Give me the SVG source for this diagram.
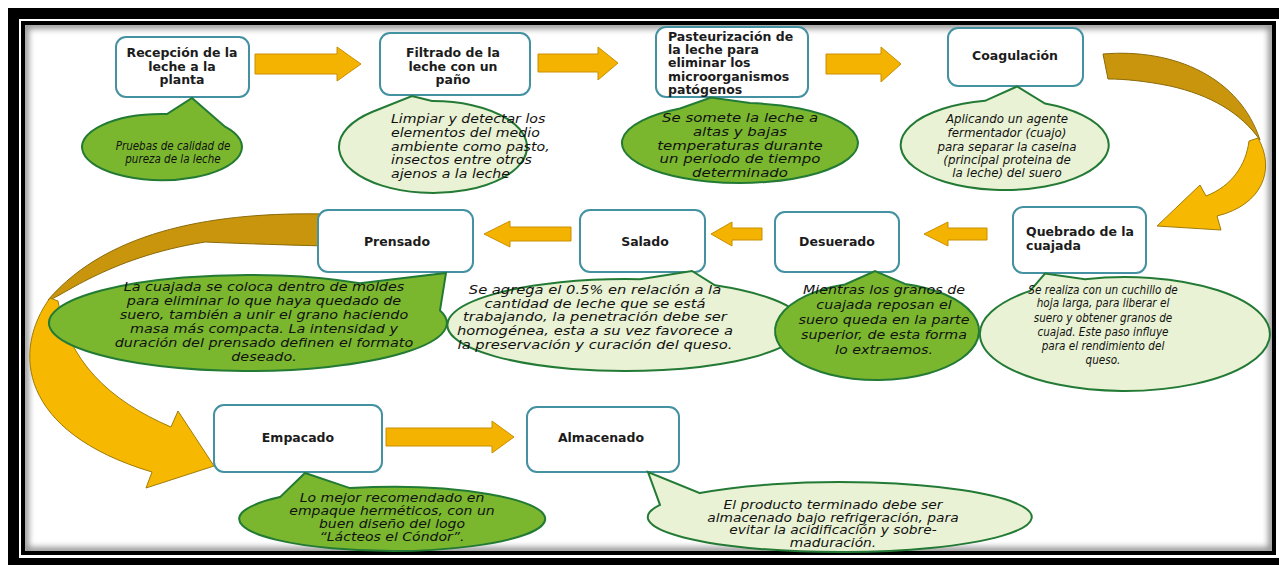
<svg xmlns="http://www.w3.org/2000/svg" width="1279" height="565" viewBox="0 0 1279 565">
<defs>
<style>
.box{fill:#ffffff;stroke:#4391a1;stroke-width:2}
.bt{font-family:"DejaVu Sans","Liberation Sans",sans-serif;font-weight:bold;font-size:12.5px;fill:#1c1c1c}
.it{font-family:"DejaVu Sans","Liberation Sans",sans-serif;font-style:italic;font-size:11.5px;fill:#111111}
.mid{text-anchor:middle}
.dk{fill:#7ab72f;stroke:#237a35;stroke-width:2}
.lt{fill:#e9f2d4;stroke:#237a35;stroke-width:2}
.ar{fill:#f4b300;stroke:#c98f00;stroke-width:1}
.cd{fill:#c9950c;stroke:#8a6a08;stroke-width:1}
.cb{fill:#f6b800;stroke:#a07c08;stroke-width:1}
</style>
<clipPath id="content"><rect x="25" y="25" width="1247" height="526"/></clipPath>
<filter id="blur" x="-5%" y="-5%" width="110%" height="110%"><feGaussianBlur stdDeviation="3"/></filter>
</defs>

<!-- frame -->
<rect x="0" y="0" width="1279" height="565" fill="#ffffff"/>
<rect x="8" y="8" width="1290" height="570" fill="#000000"/>
<rect x="19" y="19" width="1270" height="539" fill="#ffffff"/>
<rect x="21" y="21" width="1255" height="534" fill="#000000"/>
<rect x="25" y="25" width="1247" height="526" fill="#ffffff"/>
<rect x="25" y="25" width="1247" height="526" fill="none" stroke="#8a8a8a" stroke-width="7" filter="url(#blur)" clip-path="url(#content)"/>

<g id="connectors">
<path class="ar" d="M255,54 L337,54 L337,47 L361,64 L337,81 L337,74 L255,74 Z"/>
<path class="ar" d="M538,54 L598,54 L598,47 L618,63 L598,80 L598,72 L538,72 Z"/>
<path class="ar" d="M826,54 L881,54 L881,47 L901,64 L881,82 L881,74 L826,74 Z"/>
<path class="cd" d="M1103,54 C1175,48 1240,78 1260,140 C1240,112 1210,95 1170,86 C1145,81 1125,79 1108,79 Z"/>
<path class="cb" d="M1258,138 C1276,170 1262,205 1217,216 L1221,230 L1157,226 L1200,185 L1206,196 C1232,186 1246,165 1249,141 Z"/>
<path class="ar" d="M987,228 L948,228 L948,222 L924,234 L948,246 L948,240 L987,240 Z"/>
<path class="ar" d="M762,228 L732,228 L732,222 L711,234 L732,246 L732,240 L762,240 Z"/>
<path class="ar" d="M571,227 L510,227 L510,221 L484,234 L510,247 L510,241 L571,241 Z"/>
<path class="cd" d="M325,214 C220,212 110,228 48,300 C58,300 105,258 205,242 C250,244 290,245 325,246 Z"/>
<path class="cb" d="M50,298 C12,350 18,432 152,472 L146,488 L214,466 L178,411 L171,427 C108,400 68,360 58,301 Z"/>
<path class="ar" d="M386,428 L492,428 L492,421 L514,437 L492,453 L492,446 L386,446 Z"/>
</g>

<g id="recepcion">
<rect class="box" x="116" y="37" width="133" height="60" rx="10"/>
<text class="bt mid"><tspan x="182" y="57">Recepción de la</tspan><tspan x="182" y="71">leche a la</tspan><tspan x="182" y="84">planta</tspan></text>
</g>
<g id="nota-recepcion">
<path class="dk" d="M167,114.1 A80,33 0 1 0 225,126.7 L192,98 Z"/>
<g transform="translate(173,0) scale(0.9,1)"><text class="it mid"><tspan x="0" y="150">Pruebas de calidad de</tspan><tspan x="0" y="163">pureza de la leche</tspan></text></g>
</g>

<g id="filtrado">
<rect class="box" x="380" y="33" width="150" height="62" rx="10"/>
<text class="bt mid"><tspan x="453" y="57">Filtrado de la</tspan><tspan x="453" y="71">leche con un</tspan><tspan x="453" y="84">paño</tspan></text>
</g>
<g id="nota-filtrado">
<path class="lt" d="M372,112 A94,46 0 1 0 432,101 L412,96 Z"/>
<g transform="translate(391,0) scale(1.23,1)"><text class="it"><tspan x="0" y="123">Limpiar y detectar los</tspan><tspan x="0" y="137">elementos del medio</tspan><tspan x="0" y="151">ambiente como pasto,</tspan><tspan x="0" y="164">insectos entre otros</tspan><tspan x="0" y="178">ajenos a la leche</tspan></text></g>
</g>

<g id="pasteurizacion">
<rect class="box" x="656" y="27" width="152" height="70" rx="10"/>
<text class="bt"><tspan x="668" y="41">Pasteurización de</tspan><tspan x="668" y="54">la leche para</tspan><tspan x="668" y="67">eliminar los</tspan><tspan x="668" y="81">microorganismos</tspan><tspan x="668" y="94">patógenos</tspan></text>
</g>
<g id="nota-pasteurizacion">
<path class="dk" d="M680,108.5 A118,40 0 1 0 750,103.1 L711,97.5 Z"/>
<g transform="translate(740,0) scale(1.3,1)"><text class="it mid"><tspan x="0" y="122">Se somete la leche a</tspan><tspan x="0" y="136">altas y bajas</tspan><tspan x="0" y="150">temperaturas durante</tspan><tspan x="0" y="163">un periodo de tiempo</tspan><tspan x="0" y="177">determinado</tspan></text></g>
</g>

<g id="coagulacion">
<rect class="box" x="948" y="28" width="135" height="58" rx="10"/>
<text class="bt mid" x="1015" y="60">Coagulación</text>
</g>
<g id="nota-coagulacion">
<path class="lt" d="M985,100.8 A104,45 0 1 0 1045,103.5 L1017,86.5 Z"/>
<g transform="translate(1007,0) scale(1.03,1)"><text class="it mid"><tspan x="0" y="123">Aplicando un agente</tspan><tspan x="0" y="137">fermentador (cuajo)</tspan><tspan x="0" y="151">para separar la caseina</tspan><tspan x="0" y="164">(principal proteina de</tspan><tspan x="0" y="177">la leche) del suero</tspan></text></g>
</g>

<g id="quebrado">
<rect class="box" x="1013" y="207" width="133" height="66" rx="10"/>
<text class="bt"><tspan x="1026" y="236">Quebrado de la</tspan><tspan x="1026" y="250">cuajada</tspan></text>
</g>
<g id="nota-quebrado">
<path class="lt" d="M1030,290.9 A145,57 0 1 0 1085,279.2 L1045,273.5 Z"/>
<g transform="translate(1103,0) scale(0.91,1)"><text class="it mid" font-size="11"><tspan x="0" y="294">Se realiza con un cuchillo de</tspan><tspan x="0" y="307">hoja larga, para liberar el</tspan><tspan x="0" y="322">suero y obtener granos de</tspan><tspan x="0" y="336">cuajad. Este paso influye</tspan><tspan x="0" y="350">para el rendimiento del</tspan><tspan x="0" y="364">queso.</tspan></text></g>
</g>

<g id="salado">
<rect class="box" x="580" y="210" width="125" height="62" rx="10"/>
<text class="bt mid" x="645" y="246">Salado</text>
</g>
<g id="nota-salado">
<path class="lt" d="M640,279.2 A178,46 0 1 0 715,285.3 L692,271 Z"/>
<g transform="translate(595,0) scale(1.28,1)"><text class="it mid"><tspan x="0" y="294">Se agrega el 0.5% en relación a la</tspan><tspan x="0" y="308">cantidad de leche que se está</tspan><tspan x="0" y="321">trabajando, la penetración debe ser</tspan><tspan x="0" y="335">homogénea, esta a su vez favorece a</tspan><tspan x="0" y="349">la preservación y curación del queso.</tspan></text></g>
</g>

<g id="desuerado">
<rect class="box" x="775" y="212" width="124" height="60" rx="10"/>
<text class="bt mid" x="837" y="246">Desuerado</text>
</g>
<g id="nota-desuerado">
<path class="dk" d="M845,284.5 A102,49 0 1 0 905,283.9 L875,271 Z"/>
<g transform="translate(884,0) scale(1.24,1)"><text class="it mid"><tspan x="0" y="294">Mientras los granos de</tspan><tspan x="0" y="309">cuajada reposan el</tspan><tspan x="0" y="324">suero queda en la parte</tspan><tspan x="0" y="339">superior, de esta forma</tspan><tspan x="0" y="354">lo extraemos.</tspan></text></g>
</g>

<g id="prensado">
<rect class="box" x="318" y="210" width="155" height="62" rx="10"/>
<text class="bt mid" x="397" y="246">Prensado</text>
</g>
<g id="nota-prensado">
<path class="dk" d="M360,283.3 A199,48 0 1 0 440,310.4 L446,273 Z"/>
<g transform="translate(264,0) scale(1.25,1)"><text class="it mid"><tspan x="0" y="291">La cuajada se coloca dentro de moldes</tspan><tspan x="0" y="305">para eliminar lo que haya quedado de</tspan><tspan x="0" y="319">suero, también a unir el grano haciendo</tspan><tspan x="0" y="333">masa más compacta. La intensidad y</tspan><tspan x="0" y="347">duración del prensado definen el formato</tspan><tspan x="0" y="361">deseado.</tspan></text></g>
</g>

<g id="empacado">
<rect class="box" x="214" y="405" width="168" height="67" rx="10"/>
<text class="bt mid" x="298" y="442">Empacado</text>
</g>
<g id="nota-empacado">
<path class="dk" d="M280,497.1 A153,32 0 1 0 350,488.1 L305,473 Z"/>
<g transform="translate(392,0) scale(1.22,1)"><text class="it mid"><tspan x="0" y="502">Lo mejor recomendado en</tspan><tspan x="0" y="515">empaque herméticos, con un</tspan><tspan x="0" y="528">buen diseño del logo</tspan><tspan x="0" y="541">“Lácteos el Cóndor”.</tspan></text></g>
</g>

<g id="almacenado">
<rect class="box" x="527" y="407" width="152" height="65" rx="10"/>
<text class="bt mid" x="601" y="442">Almacenado</text>
</g>
<g id="nota-almacenado">
<path class="lt" d="M660,504.8 A192,35 0 1 0 700,493.1 L648,472 Z"/>
<g transform="translate(833,0) scale(1.2,1)"><text class="it mid"><tspan x="0" y="509">El producto terminado debe ser</tspan><tspan x="0" y="522">almacenado bajo refrigeración, para</tspan><tspan x="0" y="534">evitar la acidificación y sobre-</tspan><tspan x="0" y="547">maduración.</tspan></text></g>
</g>
</svg>
